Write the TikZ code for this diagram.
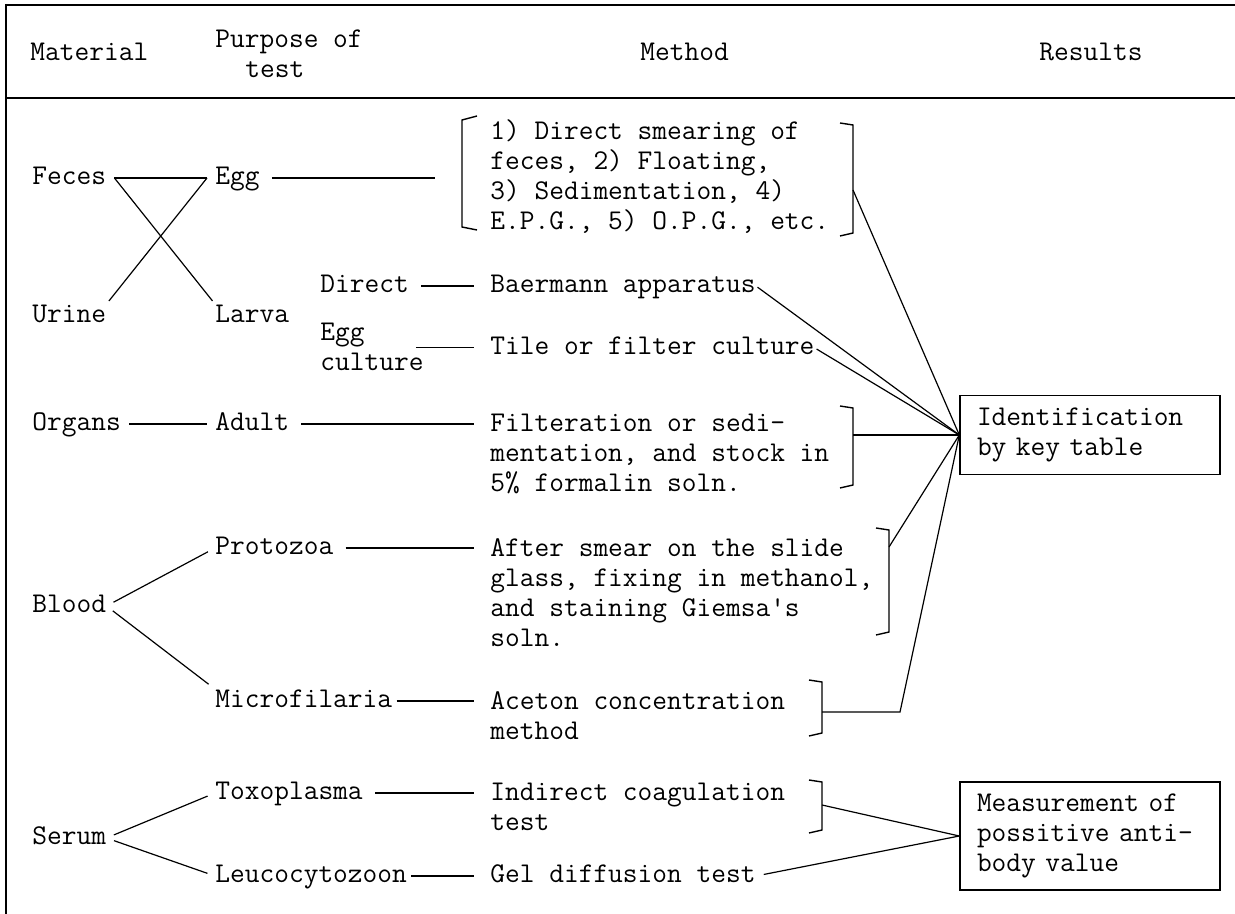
\documentclass[tikz,border=0pt]{standalone}
\newcommand{\tfont}{\fontsize{14.3}{15}\selectfont\ttfamily}
\newcommand{\rbrak}[3]{\draw[brak] (#1-13,#2-2) -- (#1,#2) -- (#1,#3) -- (#1-13,#3+3);}

\begin{document}
\begin{tikzpicture}[x=0.5pt,y=-0.5pt,
    every node/.style={font=\tfont,inner sep=0pt},
    word/.style={anchor=west,text height=9pt,text depth=2.5pt},
    block/.style={anchor=north west,align=left},
    resbox/.style={draw,line width=0.7pt,align=left,text width=113pt,
                   minimum height=39.5pt,inner xsep=8.5pt,inner ysep=5pt},
    link/.style={line width=0.6pt},
    gap/.style={link,shorten <=4pt,shorten >=4pt},
    tometh/.style={link,shorten <=6pt,shorten >=8pt},
    brak/.style={line width=0.7pt}]
\useasboundingbox (0,0) rectangle (1235,914);
\draw[line width=1.4pt] (6,4) -- (6,914);
\draw[line width=0.8pt] (6,5) -- (1235,5);
\draw[line width=0.6pt] (6,98) -- (1235,98);

\node[word] (hmat) at (30,54) {Material};
\node[block] (hpur) at (215,29) {Purpose of\\\hspace*{15pt}test};
\node[word] (hmet) at (640,54) {Method};
\node[word] (hres) at (1039,54) {Results};

\node[word] (feces) at (32,178) {Feces};
\node[word] (urine) at (32,316) {Urine};
\node[word] (organs) at (32,424) {Organs};
\node[word] (blood) at (32,606) {Blood};
\node[word] (serum) at (32,838) {Serum};

\node[word] (egg) at (215,178) {Egg};
\node[word] (larva) at (215,316) {Larva};
\node[word] (adult) at (215,424) {Adult};
\node[word] (proto) at (215,548) {Protozoa};
\node[word] (micro) at (215,701) {Microfilaria};
\node[word] (toxo) at (215,793) {Toxoplasma};
\node[word] (leuco) at (215,876) {Leucocytozoon};
\node[word] (direct) at (320,286) {Direct};
\node[block] (eggcult) at (320,323) {Egg\\culture};

\node[block] (m1) at (490,119) {1) Direct smearing of\\feces, 2) Floating,\\3) Sedimentation, 4)\\E.P.G., 5) O.P.G., etc.};
\node[word] (baer) at (490,286) {Baermann apparatus};
\node[word] (tile) at (490,348) {Tile or filter culture};
\node[block] (filt) at (490,414) {Filteration or sedi-\\mentation, and stock in\\5\% formalin soln.};
\node[block] (smear) at (490,538) {After smear on the slide\\glass, fixing in methanol,\\and staining Giemsa's\\soln.};
\node[block] (aceton) at (490,691) {Aceton concentration\\method};
\node[block] (indir) at (490,783) {Indirect coagulation\\test};
\node[word] (gel) at (490,876) {Gel diffusion test};

\node[resbox] (ident) at (1090,435) {Identification\\by key table};
\node[resbox,minimum height=54pt] (meas) at (1090,836) {Measurement of\\possitive anti-\\body value};

\draw[brak] (477,116) -- (462,120) -- (462,227) -- (477,230);
\rbrak{853}{125}{233}
\rbrak{853}{408}{485}
\rbrak{889}{530}{632}
\rbrak{822}{682}{733}
\rbrak{822}{782}{830}
\coordinate (fx) at ([xshift=4pt]feces.east);
\coordinate (ex) at ([xshift=-4pt]egg.west);
\coordinate (m1in) at (435,178);
\coordinate (b1) at (853,190);
\coordinate (b2) at (853,435);
\coordinate (b3) at (889,547);
\coordinate (b4) at (822,712);
\coordinate (b4k) at (900,712);
\coordinate (b5) at (822,805);

\draw[link] (fx) -- (ex);
\draw[link,shorten >=2pt] (fx) -- (larva.north west);
\draw[link,shorten >=2pt] (ex) -- (urine.north east);
\draw[link,shorten <=6pt] (egg.east) -- (egg.east -| m1in);
\draw[tometh] (direct) -- (baer);
\draw[link,shorten <=-4pt,shorten >=8pt] (eggcult.east) -- (eggcult.east -| tile.west);
\draw[gap] (organs) -- (adult);
\draw[tometh] (adult.east) -- (adult.east -| filt.west);
\draw[gap] (blood.east) -- (proto.west);
\draw[gap] (blood.east) -- (micro.north west);
\draw[tometh] (proto.east) -- (proto.east -| smear.west);
\draw[link,shorten <=2pt,shorten >=8pt] (micro.east) -- (micro.east -| aceton.west);
\draw[gap] (serum.east) -- (toxo.west);
\draw[gap] (serum.east) -- (leuco.west);
\draw[tometh] (toxo.east) -- (toxo.east -| indir.west);
\draw[link,shorten <=2pt,shorten >=8pt] (leuco) -- (gel);

\draw[link] (b1) -- (ident.west);
\draw[link,shorten <=1pt] (baer.east) -- (ident.west);
\draw[link,shorten <=1pt] (tile.east) -- (ident.west);
\draw[link] (b2) -- (ident.west);
\draw[link] (b3) -- (ident.west);
\draw[link] (b4) -- (b4k) -- (ident.west);
\draw[link] (b5) -- (meas.west);
\draw[link,shorten <=4pt] (gel.east) -- (meas.west);
\end{tikzpicture}
\end{document}
